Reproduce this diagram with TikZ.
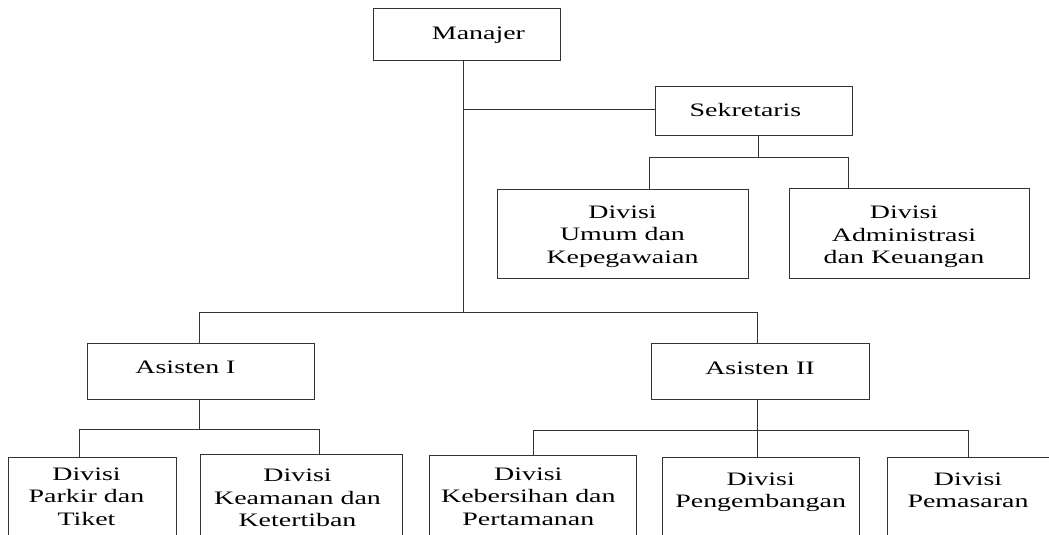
\documentclass[tikz,border=0pt]{standalone}
\usepackage{fontspec}
\setmainfont{Liberation Serif}[FakeStretch=1.47]
\newcommand\bx[6]{\parbox[c][#2][t]{#1}{\fontsize{19pt}{22.5pt}\selectfont\centering\advance\leftskip by #4\relax\advance\rightskip by #5\relax\rule{0pt}{#3}#6}}
\begin{document}
\begin{tikzpicture}[x=1pt,y=-1pt,
  orgbox/.style={draw=black!80,line width=0.9pt,inner sep=0pt,outer sep=0pt,rectangle},
  conn/.style={draw=black!80,line width=0.9pt}]
\useasboundingbox (0,0) rectangle (1049,535);
\clip (0,0) rectangle (1049,535);
% boxes
\node[orgbox] (manajer) at (466.5,34) {\bx{187pt}{52pt}{31.3pt}{24pt}{0pt}{Manajer}};
\node[orgbox] (sek) at (753.5,110.5) {\bx{197pt}{49pt}{30.7pt}{0pt}{16pt}{Sekretaris}};
\node[orgbox] (umum) at (622.5,233.5) {\bx{251pt}{89pt}{29.3pt}{0pt}{0pt}{Divisi\\Umum dan\\Kepegawaian}};
\node[orgbox] (admin) at (909,233) {\bx{240pt}{90pt}{30.5pt}{0pt}{10pt}{Divisi\\Administrasi\\dan Keuangan}};
\node[orgbox] (asisI) at (200.5,371) {\bx{227pt}{56pt}{30.3pt}{0pt}{30pt}{Asisten I}};
\node[orgbox] (asisII) at (760,371) {\bx{218pt}{56pt}{31.5pt}{0pt}{0pt}{Asisten II}};
\node[orgbox] (parkir) at (92.5,503.65) {\bx{168.4pt}{92.7pt}{22.7pt}{0pt}{12pt}{Divisi\\Parkir dan\\Tiket}};
\node[orgbox] (keam) at (301.5,502.35) {\bx{201.6pt}{95.3pt}{27pt}{0pt}{8pt}{Divisi\\Keamanan dan\\Ketertiban}};
\node[orgbox] (keber) at (532.85,502.85) {\bx{207.7pt}{94.3pt}{24.3pt}{0pt}{9pt}{Divisi\\Kebersihan dan\\Pertamanan}};
\node[orgbox] (peng) at (760.65,503.65) {\bx{196.7pt}{92.7pt}{27.7pt}{0pt}{0pt}{Divisi\\Pengembangan}};
\node[orgbox] (pemas) at (969.5,503.5) {\bx{165pt}{93pt}{28pt}{0pt}{3pt}{Divisi\\Pemasaran}};
% junctions
\coordinate (j0) at (463,312.5);
\coordinate (js) at (463,109);
\coordinate (s1) at (758,157);
\coordinate (s2) at (649,157);
\coordinate (s3) at (848,157);
\coordinate (a1) at (199.5,312.5);
\coordinate (a2) at (757.7,312.5);
\coordinate (p0) at (199.5,429.5);
\coordinate (p1) at (79.3,429.5);
\coordinate (p2) at (319.3,429.5);
\coordinate (q0) at (757.7,430);
\coordinate (q1) at (533.3,430);
\coordinate (q2) at (968,430);
% connectors
\draw[conn] (manajer.south -| j0) -- (j0);
\draw[conn] (js) -- (js -| sek.west);
\draw[conn] (sek.south -| s1) -- (s1);
\draw[conn] (umum.north -| s2) -- (s2) -- (s3) -- (admin.north -| s3);
\draw[conn] (asisI.north -| a1) -- (a1) -- (a2) -- (asisII.north -| a2);
\draw[conn] (asisI.south -| p0) -- (p0);
\draw[conn] (parkir.north -| p1) -- (p1) -- (p2) -- (keam.north -| p2);
\draw[conn] (asisII.south -| q0) -- (peng.north -| q0);
\draw[conn] (keber.north -| q1) -- (q1) -- (q2) -- (pemas.north -| q2);
\end{tikzpicture}
\end{document}
